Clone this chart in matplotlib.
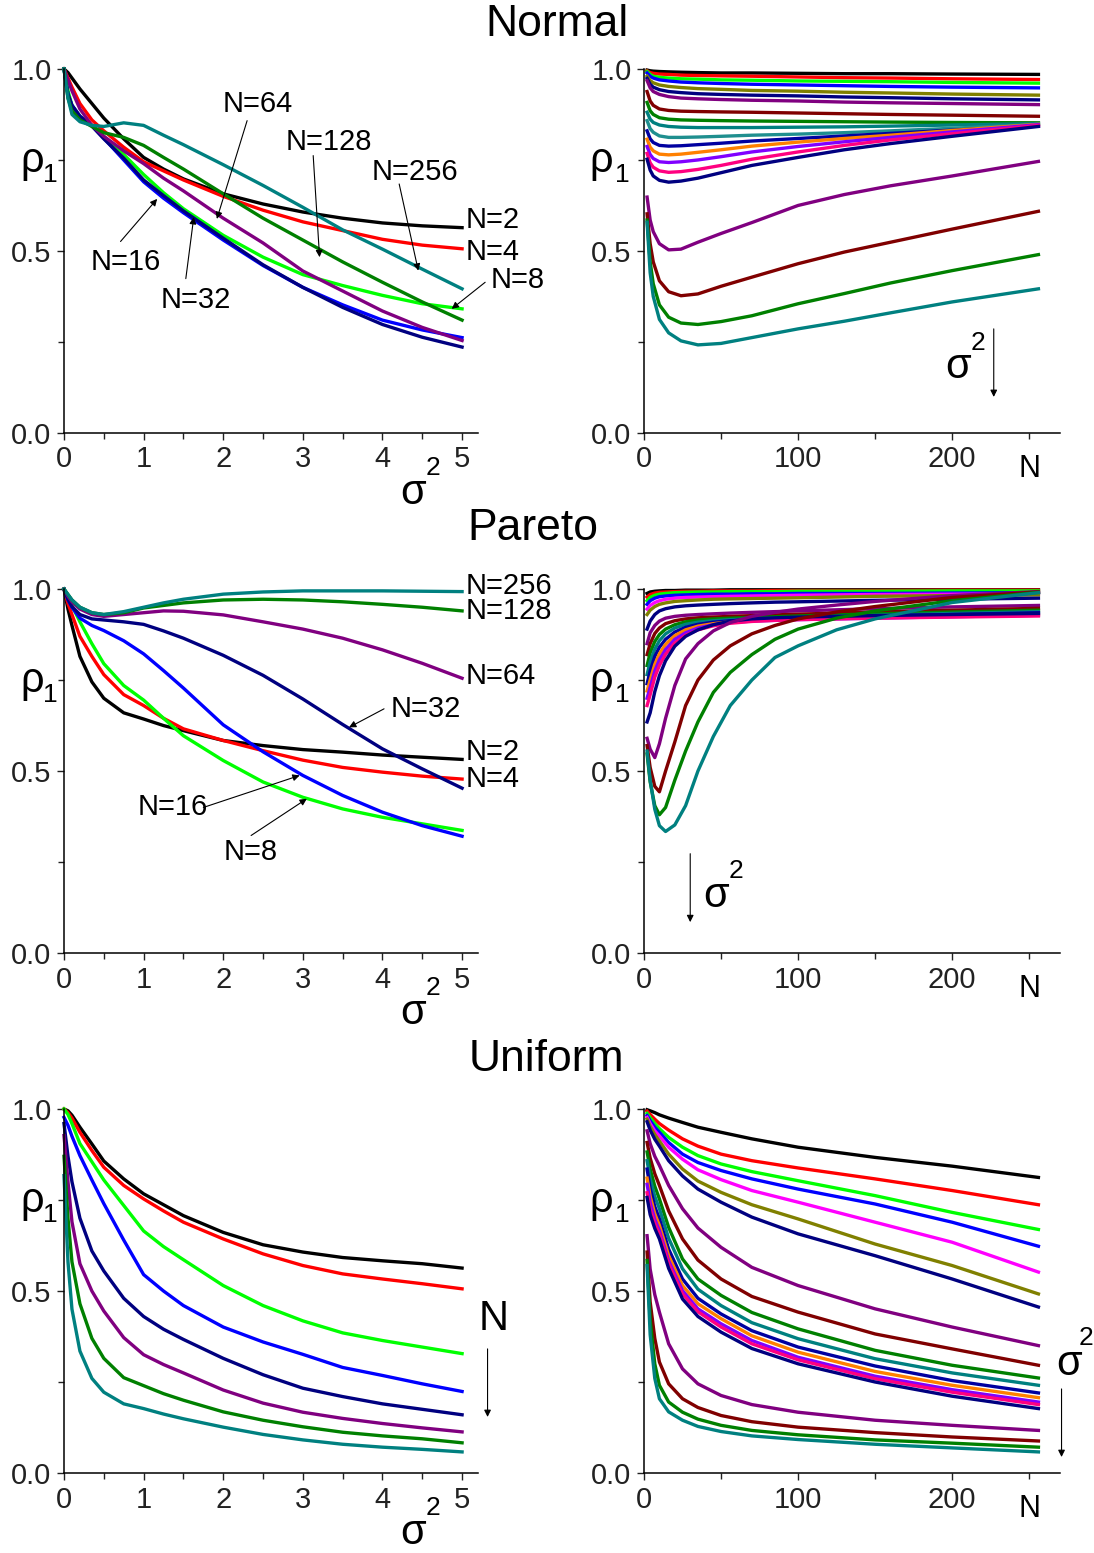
import numpy as np
import matplotlib.pyplot as plt
from matplotlib.ticker import MultipleLocator, FormatStrFormatter

plt.rcParams['font.family'] = ['Liberation Sans', 'DejaVu Sans']

# ---------------- data ----------------
# left panels: rho_1 vs sigma^2 for N = 2..256
sig2 = [0, 0.05, 0.1, 0.2, 0.35, 0.5, 0.75, 1.0, 1.25, 1.5, 2.0, 2.5, 3.0, 3.5, 4.0, 4.5, 5.0]
n_list = [2, 4, 8, 16, 32, 64, 128, 256]
n_colors = ['#000000', '#ff0000', '#00ff00', '#0000ff', '#000080', '#800080', '#008000', '#008080']

normal_left = [
    [1.0, 0.99, 0.975, 0.945, 0.905, 0.865, 0.808, 0.757, 0.725, 0.698, 0.657, 0.629, 0.607, 0.590, 0.577, 0.569, 0.564],
    [1.0, 0.975, 0.95, 0.905, 0.86, 0.83, 0.785, 0.745, 0.72, 0.695, 0.65, 0.612, 0.58, 0.556, 0.532, 0.516, 0.506],
    [1.0, 0.94, 0.9, 0.87, 0.845, 0.815, 0.765, 0.71, 0.66, 0.616, 0.543, 0.483, 0.435, 0.405, 0.378, 0.355, 0.341],
    [1.0, 0.93, 0.9, 0.87, 0.845, 0.81, 0.75, 0.69, 0.645, 0.605, 0.53, 0.46, 0.40, 0.352, 0.31, 0.283, 0.262],
    [1.0, 0.93, 0.9, 0.87, 0.843, 0.808, 0.755, 0.695, 0.652, 0.61, 0.535, 0.462, 0.40, 0.345, 0.298, 0.263, 0.236],
    [1.0, 0.97, 0.94, 0.89, 0.845, 0.815, 0.775, 0.74, 0.70, 0.665, 0.59, 0.522, 0.445, 0.39, 0.335, 0.29, 0.254],
    [1.0, 0.92, 0.885, 0.86, 0.842, 0.825, 0.812, 0.79, 0.757, 0.725, 0.657, 0.59, 0.53, 0.47, 0.414, 0.36, 0.31],
    [1.0, 0.92, 0.875, 0.855, 0.845, 0.842, 0.852, 0.845, 0.818, 0.792, 0.737, 0.68, 0.62, 0.558, 0.505, 0.45, 0.396],
]

pareto_left = [
    [1.0, 0.945, 0.9, 0.815, 0.745, 0.70, 0.66, 0.643, 0.625, 0.611, 0.584, 0.57, 0.559, 0.552, 0.544, 0.538, 0.532],
    [1.0, 0.96, 0.93, 0.87, 0.815, 0.765, 0.71, 0.68, 0.645, 0.616, 0.584, 0.556, 0.53, 0.51, 0.497, 0.486, 0.478],
    [1.0, 0.975, 0.955, 0.91, 0.85, 0.795, 0.735, 0.695, 0.645, 0.597, 0.529, 0.47, 0.428, 0.396, 0.373, 0.355, 0.337],
    [1.0, 0.97, 0.95, 0.92, 0.90, 0.886, 0.858, 0.822, 0.776, 0.728, 0.627, 0.553, 0.488, 0.433, 0.387, 0.35, 0.321],
    [1.0, 0.972, 0.952, 0.93, 0.918, 0.915, 0.91, 0.903, 0.885, 0.865, 0.818, 0.763, 0.698, 0.628, 0.561, 0.506, 0.453],
    [1.0, 0.98, 0.965, 0.945, 0.93, 0.925, 0.93, 0.935, 0.94, 0.939, 0.929, 0.91, 0.89, 0.865, 0.833, 0.796, 0.755],
    [1.0, 0.985, 0.97, 0.95, 0.935, 0.93, 0.935, 0.948, 0.955, 0.962, 0.97, 0.972, 0.97, 0.965, 0.958, 0.95, 0.94],
    [1.0, 0.985, 0.97, 0.95, 0.935, 0.93, 0.938, 0.95, 0.962, 0.972, 0.986, 0.992, 0.995, 0.995, 0.995, 0.994, 0.993],
]

uniform_left = [
    [1.0, 0.995, 0.983, 0.95, 0.904, 0.857, 0.808, 0.767, 0.737, 0.707, 0.661, 0.627, 0.607, 0.592, 0.583, 0.575, 0.563],
    [1.0, 0.99, 0.975, 0.936, 0.886, 0.84, 0.79, 0.753, 0.72, 0.689, 0.643, 0.602, 0.57, 0.547, 0.533, 0.52, 0.506],
    [1.0, 0.985, 0.96, 0.905, 0.855, 0.805, 0.735, 0.665, 0.622, 0.586, 0.515, 0.46, 0.418, 0.385, 0.364, 0.346, 0.328],
    [0.977, 0.955, 0.925, 0.872, 0.805, 0.74, 0.64, 0.545, 0.50, 0.46, 0.401, 0.36, 0.326, 0.29, 0.268, 0.245, 0.224],
    [0.96, 0.87, 0.80, 0.70, 0.61, 0.555, 0.48, 0.43, 0.395, 0.367, 0.315, 0.27, 0.233, 0.21, 0.19, 0.175, 0.16],
    [0.927, 0.80, 0.69, 0.575, 0.50, 0.445, 0.372, 0.325, 0.298, 0.275, 0.228, 0.192, 0.167, 0.15, 0.136, 0.124, 0.113],
    [0.87, 0.70, 0.58, 0.465, 0.37, 0.315, 0.262, 0.24, 0.218, 0.20, 0.168, 0.145, 0.127, 0.112, 0.102, 0.094, 0.083],
    [0.817, 0.58, 0.45, 0.335, 0.26, 0.222, 0.19, 0.177, 0.162, 0.149, 0.126, 0.106, 0.091, 0.079, 0.071, 0.065, 0.058],
]

# right panels: rho_1 vs N, one curve per sigma^2 (top to bottom = increasing sigma^2)
N_normal = [2, 4, 6, 10, 16, 24, 35, 50, 70, 100, 130, 160, 200, 256]
normal_colors = ['#000000', '#ff0000', '#00ff00', '#0000ff', '#808000', '#000080', '#800080',
                 '#800000', '#008000', '#008080', '#1f8f8f', '#0000a0', '#ff8000', '#8000ff',
                 '#ff0080', '#000080', '#800080', '#800000', '#008000', '#008080']
normal_right = [
    [0.997, 0.995, 0.994, 0.993, 0.992, 0.991, 0.990, 0.989, 0.989, 0.988, 0.987, 0.987, 0.986, 0.985],
    [0.995, 0.990, 0.988, 0.986, 0.985, 0.983, 0.982, 0.981, 0.980, 0.978, 0.976, 0.975, 0.973, 0.971],
    [0.993, 0.985, 0.980, 0.977, 0.975, 0.973, 0.972, 0.970, 0.969, 0.967, 0.966, 0.965, 0.963, 0.961],
    [0.989, 0.980, 0.975, 0.970, 0.967, 0.964, 0.962, 0.960, 0.958, 0.956, 0.954, 0.952, 0.950, 0.948],
    [0.980, 0.968, 0.962, 0.956, 0.952, 0.949, 0.946, 0.944, 0.941, 0.939, 0.936, 0.934, 0.931, 0.928],
    [0.974, 0.958, 0.950, 0.943, 0.938, 0.935, 0.932, 0.930, 0.928, 0.926, 0.923, 0.921, 0.918, 0.915],
    [0.968, 0.948, 0.938, 0.930, 0.924, 0.920, 0.918, 0.916, 0.914, 0.912, 0.909, 0.907, 0.905, 0.902],
    [0.938, 0.912, 0.900, 0.890, 0.886, 0.884, 0.883, 0.882, 0.881, 0.879, 0.877, 0.875, 0.873, 0.870],
    [0.908, 0.885, 0.875, 0.866, 0.862, 0.860, 0.859, 0.858, 0.857, 0.856, 0.855, 0.854, 0.853, 0.852],
    [0.881, 0.862, 0.853, 0.846, 0.842, 0.840, 0.839, 0.839, 0.839, 0.840, 0.841, 0.843, 0.846, 0.850],
    [0.858, 0.836, 0.826, 0.816, 0.812, 0.812, 0.813, 0.815, 0.818, 0.821, 0.825, 0.830, 0.837, 0.848],
    [0.830, 0.808, 0.798, 0.790, 0.788, 0.789, 0.792, 0.796, 0.802, 0.809, 0.816, 0.823, 0.832, 0.843],
    [0.807, 0.785, 0.775, 0.766, 0.764, 0.766, 0.771, 0.778, 0.788, 0.799, 0.809, 0.818, 0.831, 0.848],
    [0.787, 0.765, 0.754, 0.745, 0.743, 0.745, 0.750, 0.759, 0.772, 0.787, 0.800, 0.812, 0.827, 0.847],
    [0.768, 0.742, 0.730, 0.720, 0.716, 0.718, 0.724, 0.735, 0.752, 0.772, 0.790, 0.805, 0.822, 0.845],
    [0.752, 0.722, 0.706, 0.694, 0.689, 0.692, 0.700, 0.715, 0.735, 0.757, 0.778, 0.795, 0.815, 0.842],
    [0.648, 0.585, 0.553, 0.520, 0.503, 0.505, 0.524, 0.548, 0.578, 0.625, 0.655, 0.679, 0.706, 0.746],
    [0.602, 0.520, 0.470, 0.418, 0.388, 0.377, 0.382, 0.403, 0.428, 0.465, 0.497, 0.524, 0.560, 0.609],
    [0.585, 0.470, 0.410, 0.352, 0.318, 0.302, 0.298, 0.306, 0.322, 0.355, 0.383, 0.412, 0.446, 0.490],
    [0.579, 0.440, 0.375, 0.312, 0.275, 0.253, 0.242, 0.246, 0.262, 0.286, 0.307, 0.330, 0.360, 0.396],
]

N_pareto = [2, 4, 7, 10, 14, 20, 27, 35, 45, 56, 70, 85, 100, 125, 150, 200, 256]
sig_colors = ['#000000', '#ff0000', '#00ff00', '#0000ff', '#ff00ff', '#808000', '#000080',
              '#800080', '#800000', '#008000', '#008080', '#0000a0', '#ff8000', '#8000ff',
              '#ff0080', '#000080', '#800080', '#800000', '#008000', '#008080']
pareto_right = [
    [0.988, 0.992, 0.994, 0.995, 0.996, 0.996, 0.997, 0.997, 0.997, 0.998, 0.998, 0.998, 0.998, 0.998, 0.998, 0.998, 0.998],
    [0.978, 0.985, 0.989, 0.991, 0.992, 0.993, 0.994, 0.994, 0.995, 0.995, 0.995, 0.996, 0.996, 0.996, 0.996, 0.997, 0.997],
    [0.968, 0.977, 0.983, 0.986, 0.988, 0.990, 0.991, 0.992, 0.992, 0.993, 0.993, 0.993, 0.994, 0.994, 0.994, 0.995, 0.995],
    [0.958, 0.968, 0.975, 0.979, 0.981, 0.983, 0.984, 0.985, 0.986, 0.986, 0.987, 0.987, 0.988, 0.988, 0.988, 0.989, 0.990],
    [0.945, 0.955, 0.963, 0.968, 0.972, 0.975, 0.977, 0.978, 0.979, 0.980, 0.981, 0.982, 0.983, 0.984, 0.985, 0.986, 0.987],
    [0.930, 0.942, 0.952, 0.958, 0.962, 0.966, 0.968, 0.970, 0.972, 0.973, 0.974, 0.975, 0.976, 0.978, 0.980, 0.982, 0.984],
    [0.890, 0.912, 0.930, 0.940, 0.946, 0.951, 0.954, 0.956, 0.958, 0.960, 0.962, 0.964, 0.965, 0.967, 0.969, 0.972, 0.975],
    [0.850, 0.880, 0.900, 0.912, 0.920, 0.925, 0.928, 0.930, 0.932, 0.934, 0.936, 0.938, 0.940, 0.943, 0.946, 0.951, 0.955],
    [0.820, 0.850, 0.878, 0.893, 0.905, 0.913, 0.918, 0.921, 0.923, 0.925, 0.927, 0.929, 0.931, 0.934, 0.937, 0.942, 0.947],
    [0.790, 0.825, 0.856, 0.875, 0.890, 0.902, 0.910, 0.915, 0.918, 0.920, 0.922, 0.924, 0.926, 0.929, 0.932, 0.937, 0.942],
    [0.765, 0.800, 0.835, 0.858, 0.877, 0.893, 0.903, 0.909, 0.913, 0.916, 0.918, 0.920, 0.922, 0.925, 0.928, 0.933, 0.938],
    [0.740, 0.775, 0.815, 0.840, 0.862, 0.882, 0.895, 0.903, 0.909, 0.913, 0.916, 0.918, 0.920, 0.923, 0.926, 0.930, 0.935],
    [0.720, 0.750, 0.793, 0.822, 0.848, 0.872, 0.888, 0.898, 0.905, 0.910, 0.914, 0.916, 0.918, 0.920, 0.922, 0.926, 0.930],
    [0.700, 0.730, 0.775, 0.806, 0.834, 0.862, 0.880, 0.893, 0.902, 0.908, 0.912, 0.914, 0.916, 0.918, 0.920, 0.924, 0.928],
    [0.680, 0.710, 0.758, 0.790, 0.821, 0.852, 0.873, 0.888, 0.899, 0.906, 0.911, 0.914, 0.916, 0.918, 0.920, 0.923, 0.926],
    [0.635, 0.660, 0.718, 0.762, 0.803, 0.843, 0.870, 0.888, 0.902, 0.912, 0.918, 0.921, 0.923, 0.925, 0.927, 0.930, 0.933],
    [0.590, 0.560, 0.537, 0.575, 0.645, 0.735, 0.808, 0.850, 0.885, 0.908, 0.925, 0.936, 0.945, 0.956, 0.966, 0.982, 0.993],
    [0.570, 0.510, 0.458, 0.443, 0.500, 0.580, 0.680, 0.750, 0.805, 0.844, 0.877, 0.900, 0.918, 0.937, 0.952, 0.977, 0.992],
    [0.547, 0.470, 0.405, 0.380, 0.400, 0.475, 0.555, 0.635, 0.716, 0.771, 0.820, 0.862, 0.890, 0.920, 0.940, 0.968, 0.991],
    [0.555, 0.475, 0.395, 0.350, 0.334, 0.352, 0.405, 0.500, 0.595, 0.680, 0.750, 0.812, 0.844, 0.888, 0.918, 0.963, 0.990],
]

N_uniform = [2, 4, 7, 10, 16, 25, 35, 50, 70, 100, 150, 200, 256]
uniform_right = [
    [0.998, 0.995, 0.990, 0.984, 0.975, 0.963, 0.950, 0.936, 0.918, 0.895, 0.867, 0.843, 0.812],
    [0.994, 0.985, 0.972, 0.960, 0.942, 0.918, 0.898, 0.876, 0.858, 0.838, 0.808, 0.776, 0.737],
    [0.988, 0.976, 0.960, 0.946, 0.922, 0.895, 0.872, 0.849, 0.828, 0.803, 0.762, 0.716, 0.669],
    [0.982, 0.968, 0.950, 0.936, 0.908, 0.876, 0.853, 0.831, 0.808, 0.780, 0.739, 0.689, 0.623],
    [0.977, 0.960, 0.940, 0.926, 0.895, 0.862, 0.833, 0.806, 0.776, 0.744, 0.689, 0.634, 0.552],
    [0.972, 0.952, 0.930, 0.912, 0.876, 0.835, 0.802, 0.771, 0.737, 0.698, 0.629, 0.570, 0.492],
    [0.965, 0.942, 0.917, 0.898, 0.858, 0.816, 0.780, 0.744, 0.703, 0.657, 0.597, 0.533, 0.456],
    [0.940, 0.905, 0.870, 0.845, 0.790, 0.726, 0.673, 0.620, 0.565, 0.515, 0.451, 0.401, 0.350],
    [0.908, 0.865, 0.822, 0.790, 0.720, 0.643, 0.585, 0.533, 0.485, 0.442, 0.382, 0.341, 0.296],
    [0.882, 0.835, 0.788, 0.753, 0.675, 0.588, 0.533, 0.488, 0.441, 0.396, 0.337, 0.296, 0.261],
    [0.858, 0.808, 0.760, 0.726, 0.645, 0.561, 0.505, 0.460, 0.413, 0.369, 0.314, 0.275, 0.241],
    [0.835, 0.782, 0.732, 0.698, 0.615, 0.533, 0.480, 0.437, 0.391, 0.346, 0.294, 0.254, 0.220],
    [0.810, 0.760, 0.712, 0.680, 0.597, 0.515, 0.465, 0.424, 0.377, 0.332, 0.279, 0.241, 0.207],
    [0.793, 0.743, 0.697, 0.666, 0.583, 0.501, 0.451, 0.410, 0.364, 0.318, 0.266, 0.229, 0.195],
    [0.770, 0.725, 0.685, 0.657, 0.575, 0.492, 0.443, 0.401, 0.355, 0.311, 0.259, 0.222, 0.188],
    [0.757, 0.710, 0.672, 0.643, 0.562, 0.478, 0.430, 0.387, 0.342, 0.300, 0.250, 0.211, 0.177],
    [0.652, 0.560, 0.490, 0.442, 0.355, 0.286, 0.245, 0.213, 0.188, 0.167, 0.145, 0.131, 0.117],
    [0.607, 0.470, 0.370, 0.305, 0.245, 0.204, 0.180, 0.158, 0.141, 0.126, 0.111, 0.099, 0.088],
    [0.584, 0.420, 0.300, 0.241, 0.195, 0.167, 0.148, 0.131, 0.117, 0.105, 0.091, 0.082, 0.071],
    [0.570, 0.380, 0.260, 0.204, 0.168, 0.145, 0.128, 0.114, 0.102, 0.092, 0.079, 0.069, 0.058],
]

# curve labels: (text, text position, arrow start, arrow tip)
normal_notes = [
    ('N=64', (2.43, 0.904), (2.30, 0.858), (1.92, 0.588)),
    ('N=128', (3.33, 0.80), (3.13, 0.762), (3.21, 0.483)),
    ('N=256', (4.41, 0.716), (4.21, 0.684), (4.45, 0.446)),
    ('N=16', (0.78, 0.469), (0.71, 0.526), (1.17, 0.643)),
    ('N=32', (1.66, 0.364), (1.53, 0.424), (1.63, 0.593)),
    ('N=8', (5.70, 0.419), (5.29, 0.414), (4.87, 0.341)),
]
normal_end = [('N=2', 0.584), ('N=4', 0.497)]
pareto_notes = [
    ('N=32', (4.55, 0.671), (4.02, 0.671), (3.58, 0.62)),
    ('N=16', (1.37, 0.40), (1.75, 0.40), (2.96, 0.488)),
    ('N=8', (2.35, 0.277), (2.35, 0.323), (3.05, 0.424)),
]
pareto_end = [('N=256', 1.009), ('N=128', 0.94), ('N=64', 0.762), ('N=2', 0.552), ('N=4', 0.478)]

fig = plt.figure(figsize=(10.94, 15.53), dpi=100)

row_bottoms = [0.7212, 0.3863, 0.0515]
row_h = 0.2344
titles = [('Normal', 0.509, 0.9845), ('Pareto', 0.487, 0.660), ('Uniform', 0.499, 0.3175)]


def style_axes(ax, xmax, xmajor, xminor):
    ax.set_xlim(0, xmax)
    ax.set_ylim(0, 1)
    for s in ['top', 'right']:
        ax.spines[s].set_visible(False)
    for s in ['left', 'bottom']:
        ax.spines[s].set_linewidth(1.1)
    ax.yaxis.set_major_locator(MultipleLocator(0.5))
    ax.yaxis.set_minor_locator(MultipleLocator(0.25))
    ax.yaxis.set_major_formatter(FormatStrFormatter('%.1f'))
    ax.xaxis.set_major_locator(MultipleLocator(xmajor))
    ax.xaxis.set_minor_locator(MultipleLocator(xminor))
    ax.tick_params(which='both', direction='out', width=1.0, labelsize=21, colors='#222222')
    ax.tick_params(which='major', length=5, pad=4)
    ax.tick_params(which='minor', length=4)


def sym(ax, x, y, base, small, dx, dy, size=30, small_size=19):
    # symbol with a raised / lowered index, positions in data units
    ax.text(x, y, base, fontsize=size, ha='center', va='center', clip_on=False)
    ax.text(x + dx, y + dy, small, fontsize=small_size, ha='center', va='center', clip_on=False)


def arrow(ax, start, tip):
    ax.annotate('', xy=tip, xytext=start, annotation_clip=False,
                arrowprops=dict(arrowstyle='-|>', color='black', lw=0.8,
                                mutation_scale=10, shrinkA=0, shrinkB=0))


left_sets = [normal_left, pareto_left, uniform_left]
right_sets = [(N_normal, normal_right, normal_colors),
              (N_pareto, pareto_right, sig_colors),
              (N_uniform, uniform_right, sig_colors)]

for r in range(3):
    b = row_bottoms[r]
    axl = fig.add_axes([64 / 1094, b, 414 / 1094, row_h])
    axr = fig.add_axes([644 / 1094, b, 416 / 1094, row_h])

    for vals, c in zip(left_sets[r], n_colors):
        axl.plot(sig2, vals, color=c, lw=2.4, clip_on=False)
    style_axes(axl, 5.2, 1, 0.5)

    nx, rows, cols = right_sets[r]
    for vals, c in zip(rows, cols):
        axr.plot(nx, vals, color=c, lw=2.4, clip_on=False)
    style_axes(axr, 270, 100, 50)

    # axis symbols
    sym(axl, -0.40, 0.748, 'ρ', '1', 0.23, -0.04)
    sym(axr, -28, 0.748, 'ρ', '1', 14, -0.04)
    sym(axl, 4.38, -0.165, 'σ', '2', 0.26, 0.068)
    axr.text(250, -0.10, 'N', fontsize=22, ha='center', va='center', clip_on=False)

    t, tx, ty = titles[r]
    fig.text(tx, ty, t, fontsize=32, ha='center', va='center')

    if r == 0:
        for txt, pos, a0, a1 in normal_notes:
            axl.text(pos[0], pos[1], txt, fontsize=21, ha='center', va='center', clip_on=False)
            arrow(axl, a0, a1)
        for txt, y in normal_end:
            axl.text(5.04, y, txt, fontsize=21, ha='left', va='center', clip_on=False)
        sym(axr, 204, 0.18, 'σ', '2', 13, 0.068)
        arrow(axr, (227, 0.286), (227, 0.099))
    elif r == 1:
        for txt, pos, a0, a1 in pareto_notes:
            axl.text(pos[0], pos[1], txt, fontsize=21, ha='center', va='center', clip_on=False)
            arrow(axl, a0, a1)
        for txt, y in pareto_end:
            axl.text(5.04, y, txt, fontsize=21, ha='left', va='center', clip_on=False)
        sym(axr, 47, 0.158, 'σ', '2', 13, 0.068)
        arrow(axr, (30, 0.273), (30, 0.085))
    else:
        axl.text(5.4, 0.424, 'N', fontsize=30, ha='center', va='center', clip_on=False)
        arrow(axl, (5.32, 0.341), (5.32, 0.154))
        sym(axr, 276, 0.30, 'σ', '2', 11, 0.07)
        arrow(axr, (271, 0.231), (271, 0.044))

fig.savefig('out.png', dpi=100)
